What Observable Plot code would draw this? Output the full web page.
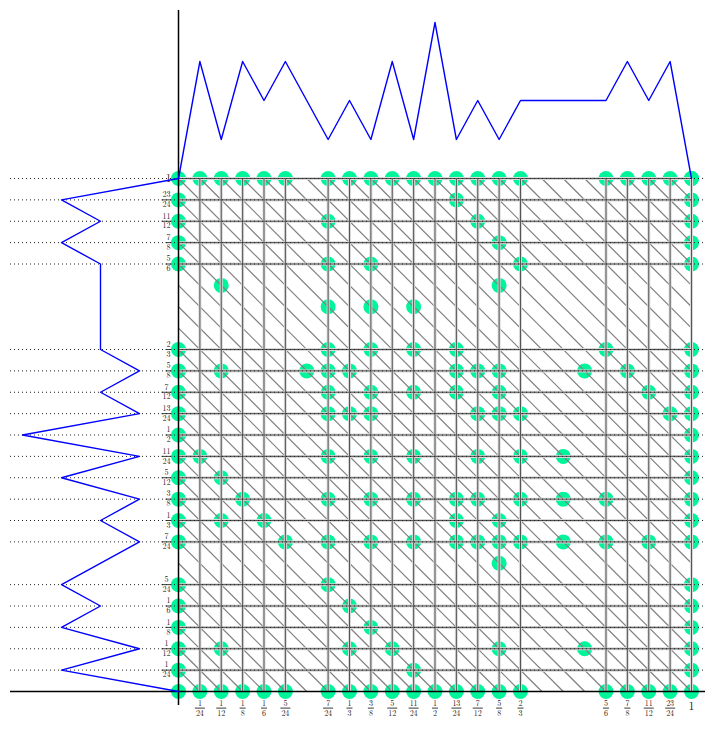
<!DOCTYPE html>
<html><head><meta charset="utf-8">
<script src="https://cdn.jsdelivr.net/npm/d3@7"></script>
<script src="https://cdn.jsdelivr.net/npm/@observablehq/plot@0.6"></script>
<style>
body{margin:0;background:#fff;}
#wrap{position:relative;width:715px;height:729px;}
#wrap svg{position:absolute;left:0;top:0;}
</style></head><body><div id="wrap"></div>
<script>
// Tick labels (fractions of 1)
const tickLabels = ["1/24","1/12","1/8","1/6","5/24","7/24","1/3","3/8","5/12","11/24","1/2","13/24","7/12","5/8","2/3","5/6","7/8","11/12","23/24","1"];
// Marginal counts at each tick (same for top and left panels)
const marginCounts = [3,1,3,2,3,1,2,1,3,1,4,1,2,1,2,2,3,2,3,0];
const originCount = 0;
// Interior points, in 24ths: row y -> list of x
const pointRows = [
  {y:23, xs:[13]},
  {y:22, xs:[7,14]},
  {y:21, xs:[15]},
  {y:20, xs:[7,9,16]},
  {y:19, xs:[2,15]},
  {y:18, xs:[7,9,11]},
  {y:16, xs:[7,9,11,13,20]},
  {y:15, xs:[2,6,7,8,13,14,15,19,21]},
  {y:14, xs:[7,9,11,13,15,22]},
  {y:13, xs:[7,8,9,14,15,16,23]},
  {y:11, xs:[1,7,9,11,14,16,18]},
  {y:10, xs:[2]},
  {y:9,  xs:[3,7,9,11,13,14,16,18,20]},
  {y:8,  xs:[2,4,13,15]},
  {y:7,  xs:[5,7,9,11,13,14,15,16,18,20,22]},
  {y:6,  xs:[15]},
  {y:5,  xs:[7]},
  {y:4,  xs:[8]},
  {y:3,  xs:[9]},
  {y:2,  xs:[2,8,10,15,19]},
  {y:1,  xs:[11]}
];
const gridDenominator = 24;

const parseFrac = s => { const [n, d] = s.split("/"); return d ? +n / +d : +n; };
const ticks = tickLabels.map(s => {
  const [n, d] = s.split("/");
  return {label: s, v: parseFrac(s), num: n, den: d || null};
});
const tickValues = ticks.map(t => t.v);
const fracTicks = ticks.filter(t => t.den);
const wideTicks = fracTicks.filter(t => t.den.length > 1);
const narrowTicks = fracTicks.filter(t => t.den.length === 1);
const unitTicks = ticks.filter(t => !t.den);

const marginData = [{v: 0, c: originCount}, ...ticks.map((t, i) => ({v: t.v, c: marginCounts[i]}))];

const points = [];
points.push({x: 0, y: 0});
tickValues.forEach(v => {
  points.push({x: 0, y: v}, {x: v, y: 0}, {x: v, y: 1}, {x: 1, y: v});
});
pointRows.forEach(r => r.xs.forEach(x => points.push({x: x / gridDenominator, y: r.y / gridDenominator})));

const diagonals = d3.range(1, 2 * gridDenominator).map(k => k / gridDenominator);

// fraction bar symbol
const barSymbol = {draw(ctx, size) { const r = Math.sqrt(size / Math.PI); ctx.moveTo(-r, 0); ctx.lineTo(r, 0); }};

const W = 715, H = 729;
const xScale = {domain: [0, 1], range: [178, 691]};
const yScale = {domain: [0, 1], range: [691, 178]};
const serif = "'Latin Modern Roman', 'Liberation Serif', 'DejaVu Serif', serif";
const base = {width: W, height: H, marginLeft: 10, marginRight: 10, marginTop: 10, marginBottom: 24, style: {background: "transparent", overflow: "visible"}};
const lab = {fontFamily: serif, fill: "#222"};

const mainPlot = Plot.plot({
  ...base,
  x: {...xScale, axis: null},
  y: {...yScale, axis: null},
  marks: [
    Plot.dot(points, {x: "x", y: "y", r: 7.5, fill: "#00f59b"}),
    Plot.link(diagonals, {
      x1: c => Math.max(0, c - 1), y1: c => Math.min(1, c),
      x2: c => Math.min(1, c), y2: c => Math.max(0, c - 1),
      stroke: "#808080", strokeWidth: 1.2
    }),
    Plot.ruleX(tickValues, {y1: 0, y2: 1, stroke: "#d8d8d8", strokeWidth: 3}),
    Plot.ruleY(tickValues, {x1: 0, x2: 1, stroke: "#d8d8d8", strokeWidth: 3}),
    Plot.ruleX(tickValues, {y1: 0, y2: 1, stroke: "#555", strokeWidth: 1}),
    Plot.ruleY(tickValues, {x1: 0, x2: 1, stroke: "#555", strokeWidth: 1}),
    Plot.ruleX(tickValues, {y2: 0, stroke: "#222", strokeWidth: 1, strokeDasharray: "1,3"}),
    Plot.ruleY(tickValues, {stroke: "#222", strokeWidth: 1, strokeDasharray: "1,3"}),
    Plot.ruleX([0], {stroke: "black", strokeWidth: 1.5}),
    Plot.ruleY([0], {stroke: "black", strokeWidth: 1.5}),
    // x-axis fraction labels
    Plot.text(fracTicks, {x: "v", y: () => 0, text: "num", dy: 11.8, fontSize: 8, ...lab}),
    Plot.text(fracTicks, {x: "v", y: () => 0, text: "den", dy: 22, fontSize: 8, ...lab}),
    Plot.dot(wideTicks, {x: "v", y: () => 0, dy: 16.6, symbol: barSymbol, r: 5, stroke: "#222", strokeWidth: 0.9}),
    Plot.dot(narrowTicks, {x: "v", y: () => 0, dy: 16.6, symbol: barSymbol, r: 3, stroke: "#222", strokeWidth: 0.9}),
    Plot.text(unitTicks, {x: "v", y: () => 0, text: "num", dy: 15, fontSize: 12, ...lab}),
    // y-axis fraction labels
    Plot.text(wideTicks, {x: () => 0, y: "v", text: "num", dx: -12, dy: -5.3, fontSize: 8, ...lab}),
    Plot.text(wideTicks, {x: () => 0, y: "v", text: "den", dx: -12, dy: 4.6, fontSize: 8, ...lab}),
    Plot.dot(wideTicks, {x: () => 0, y: "v", dx: -12, symbol: barSymbol, r: 5, stroke: "#222", strokeWidth: 0.9}),
    Plot.text(narrowTicks, {x: () => 0, y: "v", text: "num", dx: -10, dy: -5.3, fontSize: 8, ...lab}),
    Plot.text(narrowTicks, {x: () => 0, y: "v", text: "den", dx: -10, dy: 4.6, fontSize: 8, ...lab}),
    Plot.dot(narrowTicks, {x: () => 0, y: "v", dx: -10, symbol: barSymbol, r: 3, stroke: "#222", strokeWidth: 0.9}),
    Plot.text(unitTicks, {x: () => 0, y: "v", text: "num", dx: -10, fontSize: 11, ...lab})
  ]
});

const topPlot = Plot.plot({
  ...base,
  x: {...xScale, axis: null},
  y: {domain: [0, 4], range: [178, 22], axis: null},
  marks: [
    Plot.line(marginData, {x: "v", y: "c", stroke: "#0000ff", strokeWidth: 1.4})
  ]
});

const leftPlot = Plot.plot({
  ...base,
  x: {domain: [0, 4], range: [178, 22], axis: null},
  y: {...yScale, axis: null},
  marks: [
    Plot.line(marginData, {x: "c", y: "v", stroke: "#0000ff", strokeWidth: 1.4})
  ]
});

document.getElementById("wrap").append(mainPlot, topPlot, leftPlot);
</script>
</body></html>
